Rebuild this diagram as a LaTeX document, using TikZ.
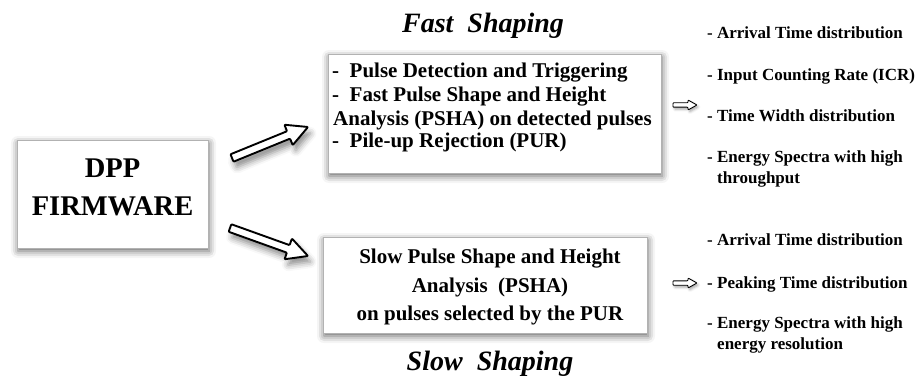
\documentclass[tikz,border=0pt]{standalone}
\usepackage{fontspec}
\setmainfont{Liberation Serif}
\usetikzlibrary{calc,shadows.blur}

\tikzset{
  panel/.style={draw=gray!60, line width=0.6pt, fill=white, inner sep=0pt,
    blur shadow={shadow xshift=1pt, shadow yshift=-3pt,
                 shadow blur radius=7pt, shadow opacity=60}},
  boxline/.style={font=\fontsize{21}{24}\selectfont\bfseries, inner sep=0pt},
  listline/.style={font=\fontsize{17}{21}\selectfont\bfseries, inner sep=0pt,
                   anchor=base west},
  headline/.style={font=\fontsize{28}{30}\selectfont\bfseries\itshape,
                   inner sep=0pt, anchor=base},
  bigtext/.style={font=\fontsize{28.5}{30}\selectfont\bfseries,
                  inner sep=0pt, anchor=base},
  hollow/.style={draw=black, fill=white, line join=round, rounded corners=0.8pt},
  bigshadow/.style={blur shadow={shadow xshift=3pt, shadow yshift=-6pt,
                    shadow blur radius=6pt, shadow opacity=45}},
  smallshadow/.style={blur shadow={shadow xshift=1.5pt, shadow yshift=-2pt,
                      shadow blur radius=2.5pt, shadow opacity=35}},
}

% open block arrow from #2 (tail) to #3 (tip):
% #4 half shaft width, #5 half head width, #6 head length
\newcommand{\blockarrow}[6][]{%
  \coordinate (hb) at ($(#3)!#6!(#2)$);
  \path[hollow,#1]
    ($(#2)!#4!90:(#3)$) -- ($(hb)!#4!90:(#3)$) -- ($(hb)!#5!90:(#3)$)
    -- (#3) -- ($(hb)!#5!-90:(#3)$) -- ($(hb)!#4!-90:(#3)$)
    -- ($(#2)!#4!-90:(#3)$) -- cycle;
}

\begin{document}
\begin{tikzpicture}[x=1pt,y=-1pt]
  \useasboundingbox (0,0) rectangle (918,377);

  % firmware block
  \node[panel, minimum width=191pt, minimum height=108pt] (dpp) at (112.5,194) {};
  \node[bigtext] (dppa) at (112.5,177) {DPP};
  \node[bigtext] (dppb) at (112.5,215) {FIRMWARE};

  % fast shaping block
  \node[panel, minimum width=333pt, minimum height=119pt] (fast) at (494.5,113.5) {};
  \node[boxline, anchor=base west] (f1) at (332,78) {-\ \ Pulse Detection and Triggering};
  \node[boxline, anchor=base west] (f2) at (332,102) {-\ \ Fast Pulse Shape and Height};
  \node[boxline, anchor=base west] (f3) at (333,125) {Analysis (PSHA) on detected pulses};
  \node[boxline, anchor=base west] (f4) at (332,148) {-\ \ Pile-up Rejection (PUR)};

  % slow shaping block
  \node[panel, minimum width=324pt, minimum height=96pt] (slow) at (485,285) {};
  \node[boxline, anchor=base] (s1) at (490,263) {Slow Pulse Shape and Height};
  \node[boxline, anchor=base] (s2) at (490,292) {Analysis\ \ (PSHA)};
  \node[boxline, anchor=base] (s3) at (490,320) {on pulses selected by the PUR};

  % titles
  \node[headline] (tfast) at (483,33) {Fast\ \ Shaping};
  \node[headline] (tslow) at (490,370) {Slow\ \ Shaping};

  % arrows from the firmware block
  \coordinate (ua) at (232,158);
  \coordinate (ub) at (308,127);
  \coordinate (la) at (230,228);
  \coordinate (lb) at (308,256);
  \blockarrow[bigshadow, line width=1.9pt]{ua}{ub}{4pt}{11pt}{21pt}
  \blockarrow[bigshadow, line width=1.9pt]{la}{lb}{4pt}{11pt}{21pt}

  % arrows towards the outputs
  \coordinate (fa) at (673,105);
  \coordinate (fb) at (697,105);
  \coordinate (sa) at (673,283);
  \coordinate (sb) at (697,283);
  \blockarrow[smallshadow, line width=0.9pt]{fa}{fb}{2.2pt}{5pt}{9pt}
  \blockarrow[smallshadow, line width=0.9pt]{sa}{sb}{2.2pt}{5pt}{9pt}

  % fast shaping outputs
  \node[listline] (o1) at (707,39) {- Arrival Time distribution};
  \node[listline] (o2) at (707,81) {- Input Counting Rate (ICR)};
  \node[listline] (o3) at (707,122) {- Time Width distribution};
  \node[listline] (o4) at (707,162) {- Energy Spectra with high};
  \node[listline] (o5) at (717,183) {throughput};

  % slow shaping outputs
  \node[listline] (p1) at (707,245) {- Arrival Time distribution};
  \node[listline] (p2) at (707,288) {- Peaking Time distribution};
  \node[listline] (p3) at (707,328) {- Energy Spectra with high};
  \node[listline] (p4) at (717,349) {energy resolution};
\end{tikzpicture}
\end{document}
